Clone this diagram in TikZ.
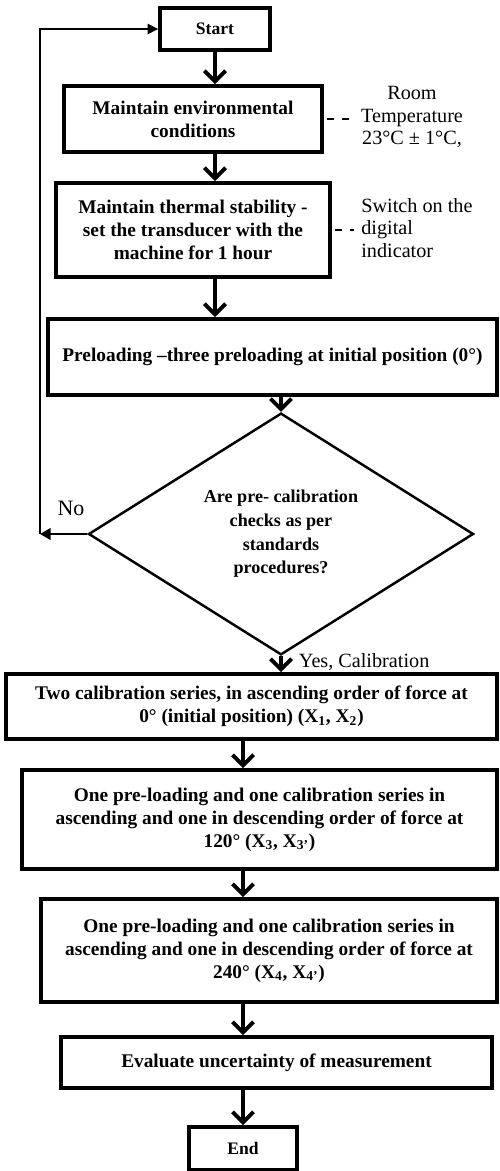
\documentclass[tikz,border=0pt]{standalone}
\usepackage{fontspec}
\setmainfont{Liberation Serif}
\usetikzlibrary{shapes.geometric, arrows.meta, positioning}

\tikzset{
  procbox/.style={
    rectangle, draw, line width=2.2pt, align=center, inner sep=0pt,
    font=\fontsize{11}{13}\selectfont\bfseries
  },
  termbox/.style={procbox, font=\fontsize{10}{12}\selectfont\bfseries},
  decision/.style={
    diamond, draw, line width=1.4pt, align=center, inner sep=0pt,
    font=\fontsize{10.3}{13.5}\selectfont\bfseries
  },
  flow/.style={line width=2.2pt, -{Straight Barb[length=6pt,width=12pt]}},
  loopback/.style={line width=0.9pt, -{Triangle[length=6pt,width=6pt]}},
  rejectline/.style={line width=1.4pt, -{Triangle[length=6pt,width=6.5pt]}},
  remark/.style={line width=1.4pt, dash pattern=on 4pt off 4.5pt,
    shorten <=0.06cm, shorten >=0.15cm},
  sidenote/.style={inner sep=0pt, font=\fontsize{11.5}{13}\selectfont}
}

\begin{document}
\begin{tikzpicture}
  \useasboundingbox[fill=white] (0,0) rectangle (9.98,-23.42);

  % Steps
  \node[termbox, minimum width=2.20cm, minimum height=0.84cm] (start) at (4.30,-0.58) {Start};
  \node[procbox, minimum width=5.16cm, minimum height=1.32cm] (env) at (3.86,-2.38)
    {Maintain environmental\\conditions};
  \node[procbox, minimum width=5.48cm, minimum height=1.88cm] (thermal) at (3.86,-4.60)
    {Maintain thermal stability -\\set the transducer with the\\machine for 1 hour};
  \node[procbox, minimum width=8.98cm, minimum height=1.52cm] (preload) at (5.45,-7.14)
    {Preloading --three preloading at initial position (0°)};
  \node[decision, minimum width=7.70cm, minimum height=4.26cm] (dia) at (5.62,-10.68)
    {Are pre- calibration\\checks as per\\standards\\procedures?};
  \node[procbox, minimum width=9.82cm, minimum height=1.30cm] (two) at (5.03,-14.13)
    {Two calibration series, in ascending order of force at\\0° (initial position) (X\textsubscript{1}, X\textsubscript{2})};
  \node[procbox, minimum width=9.50cm, minimum height=1.98cm] (third) at (5.19,-16.39)
    {One pre-loading and one calibration series in\\ascending and one in descending order of force at\\120° (X\textsubscript{3}, X\textsubscript{3'})};
  \node[procbox, minimum width=9.12cm, minimum height=2.06cm] (fourth) at (5.38,-19.01)
    {One pre-loading and one calibration series in\\ascending and one in descending order of force at\\240° (X\textsubscript{4}, X\textsubscript{4'})};
  \node[procbox, minimum width=8.62cm, minimum height=1.02cm] (eval) at (5.53,-21.25)
    {Evaluate uncertainty of measurement};
  \node[termbox, minimum width=2.16cm, minimum height=0.86cm] (end) at (4.86,-22.97) {End};

  % Side notes
  \node[sidenote, align=center] (room) at (8.24,-2.34) {Room\\Temperature\\23°C ± 1°C,};
  \node[sidenote, align=left, anchor=west] (switch) at (7.22,-4.56) {Switch on the\\digital\\indicator};
  \draw[remark] (env.east) -- (env.east -| room.west);
  \draw[remark] (thermal.east) -- (thermal.east -| switch.west);

  % Main flow
  \draw[flow] (start.south) -- (start.south |- env.north);
  \draw[flow] (env.south -| start) -- (thermal.north -| start);
  \draw[flow] (thermal.south -| start) -- (preload.north -| start);
  \draw[flow] (preload.south -| dia.north) -- (dia.north);
  \draw[flow] (dia.south) -- node[sidenote, right, pos=0.35, xshift=0.32cm] {Yes, Calibration}
    (dia.south |- two.north);
  \draw[flow] (two.south -| end) -- (third.north -| end);
  \draw[flow] (third.south -| end) -- (fourth.north -| end);
  \draw[flow] (fourth.south -| end) -- (eval.north -| end);
  \draw[flow] (eval.south -| end) -- (end.north);

  % Back to start
  \coordinate (back) at (0.80,-10.68);
  \node[sidenote, font=\fontsize{12.5}{14}\selectfont] (nolabel) at (1.42,-10.16) {No};
  \draw[rejectline] (dia.west) -- (back);
  \draw[loopback] (back) |- (start.west);

\end{tikzpicture}
\end{document}
